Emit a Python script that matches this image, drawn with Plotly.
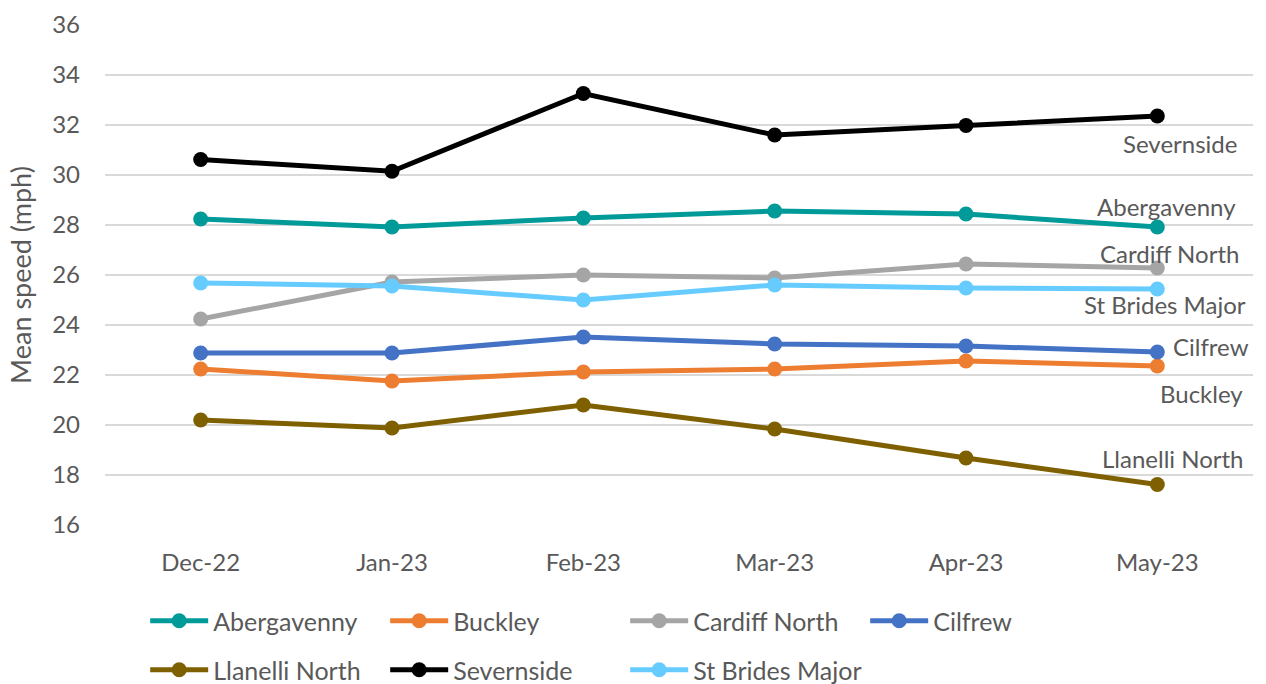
import plotly.graph_objects as go

months = ["Dec-22", "Jan-23", "Feb-23", "Mar-23", "Apr-23", "May-23"]

abergavenny = [28.24, 27.92, 28.28, 28.56, 28.44, 27.92]
buckley = [22.24, 21.76, 22.12, 22.24, 22.56, 22.36]
cardiff_north = [24.24, 25.72, 26.00, 25.88, 26.44, 26.28]
cilfrew = [22.88, 22.88, 23.52, 23.24, 23.16, 22.92]
llanelli_north = [20.20, 19.88, 20.80, 19.84, 18.68, 17.62]
severnside = [30.62, 30.15, 33.26, 31.60, 31.98, 32.36]
st_brides_major = [25.68, 25.56, 25.00, 25.60, 25.48, 25.44]

series = [
    ("Abergavenny", abergavenny, "#009A98", "legend"),
    ("Buckley", buckley, "#ED7D31", "legend"),
    ("Cardiff North", cardiff_north, "#A5A5A5", "legend"),
    ("Cilfrew", cilfrew, "#4472C4", "legend"),
    ("Llanelli North", llanelli_north, "#7F6000", "legend2"),
    ("Severnside", severnside, "#000000", "legend2"),
    ("St Brides Major", st_brides_major, "#66CCFF", "legend2"),
]

# end-of-line label positions (data y)
end_labels = [
    ("Severnside", 31.28),
    ("Abergavenny", 28.76),
    ("Cardiff North", 26.88),
    ("St Brides Major", 24.84),
    ("Cilfrew", 23.16),
    ("Buckley", 21.28),
    ("Llanelli North", 18.68),
]
label_right_px = {"Severnside": 1239, "Abergavenny": 1238, "Cardiff North": 1241,
                  "St Brides Major": 1248, "Cilfrew": 1251, "Buckley": 1245,
                  "Llanelli North": 1246}

FONT = "Lato"
TXT = "#595959"
FS = 24

fig = go.Figure()
for name, vals, col, lg in series:
    fig.add_trace(go.Scatter(
        x=months, y=vals, name=name, mode="lines+markers",
        line=dict(color=col, width=5),
        marker=dict(color=col, size=15),
        legend=lg,
    ))

L, R = 105, 1253
for name, yv in end_labels:
    fig.add_annotation(
        x=(label_right_px[name] - L) / (R - L), xref="paper", xanchor="right",
        y=yv, yref="y", yanchor="middle", text=name, showarrow=False,
        font=dict(family=FONT, size=FS, color=TXT),
    )

legend_common = dict(
    orientation="h", xref="paper", yref="paper", xanchor="left", yanchor="middle",
    font=dict(family=FONT, size=25, color=TXT), bgcolor="rgba(0,0,0,0)",
    entrywidth=167, entrywidthmode="pixels", itemwidth=58, traceorder="normal",
)

fig.update_layout(
    width=1266, height=684,
    margin=dict(l=L, r=1266 - R, t=25, b=159, autoexpand=False),
    paper_bgcolor="white", plot_bgcolor="white",
    font=dict(family=FONT, size=FS, color=TXT),
    xaxis=dict(showgrid=False, showline=False, zeroline=False, ticks="",
               range=[-0.5, 5.5],
               tickfont=dict(family=FONT, size=FS, color=TXT), ticklabelstandoff=21),
    yaxis=dict(range=[16, 36], dtick=2, showgrid=True, gridcolor="#D9D9D9", gridwidth=1.5,
               zeroline=False, showline=False, ticks="",
               tickfont=dict(family=FONT, size=FS, color=TXT), ticklabelstandoff=24,
               title=dict(text="Mean speed (mph)", font=dict(family=FONT, size=27, color=TXT),
                          standoff=12)),
    legend=dict(x=0.035, y=-0.192, **legend_common),
    legend2=dict(x=0.035, y=-0.29, **legend_common),
    showlegend=True,
)

fig.write_html("out.html")
